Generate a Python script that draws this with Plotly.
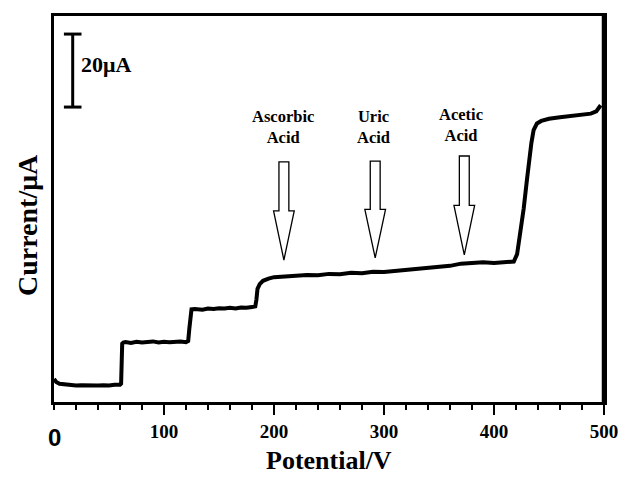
import plotly.graph_objects as go

# ---- data ----
potential = [0, 2, 5, 10, 15, 20, 25, 30, 35, 40, 45, 50, 55, 60, 61,
             62, 63, 65, 70, 75, 80, 85, 90, 95, 100, 105, 110, 115, 120, 122,
             123, 124, 125, 128, 135, 140, 145, 150, 155, 160, 165, 170, 175, 180, 183,
             184, 185, 187, 190, 195, 200, 210, 220, 230, 240, 250, 260, 270, 280, 290,
             300, 310, 320, 330, 340, 350, 360, 370, 380, 390, 400, 410, 418,
             421, 424, 427, 430, 432, 434, 436, 439, 443, 450, 460, 470, 480, 488, 493, 496, 497]
current = [6.3, 5.5, 5.0, 4.8, 4.6, 4.5, 4.6, 4.5, 4.6, 4.5, 4.6, 4.5, 4.7, 4.7, 5.0,
           16.0, 16.3, 16.4, 16.2, 16.5, 16.3, 16.4, 16.6, 16.3, 16.5, 16.4, 16.5, 16.6, 16.4, 16.7,
           20.0, 24.5, 25.4, 25.5, 25.3, 25.6, 25.5, 25.7, 25.6, 25.8, 25.6, 25.9, 25.8, 26.0, 26.2,
           28.0, 31.0, 32.3, 33.2, 33.8, 34.2, 34.4, 34.6, 34.8, 34.7, 35.1, 35.0, 35.4, 35.3, 35.7,
           35.6, 35.9, 36.2, 36.4, 36.7, 36.9, 37.3, 37.9, 38.0, 38.3, 38.1, 38.4, 38.5,
           40.5, 46.0, 53.0, 61.0, 66.5, 71.0, 74.5, 76.3, 77.0, 77.6, 78.0, 78.3, 78.7, 79.0, 79.6, 80.8, 81.3]

x_range = [0, 500]
y_range = [0, 105.75]
tick_vals = [100, 200, 300, 400, 500]
tick_text = ["100", "200", "300", "400", "500"]
top_tick_vals = list(range(0, 501, 20))

arrow_labels = ["Ascorbic<br>Acid", "Uric<br>Acid", "Acetic<br>Acid"]
arrow_x = [209, 292, 373]
arrow_top = [65.8, 66.0, 67.4]
arrow_tip = [38.9, 39.5, 40.3]
label_x = [208, 290, 370]
label_y = [75.4, 75.4, 76.0]

scale_bar_x = 17
scale_bar_low = 80.8
scale_bar_value = 20

serif = "Liberation Serif, Times New Roman, serif"

fig = go.Figure()
fig.add_trace(go.Scatter(x=potential, y=current, mode="lines",
                         line=dict(color="black", width=4), showlegend=False))

# ticks along the top frame: short vertical markers just above the y range, unclipped
fig.add_trace(go.Scatter(x=top_tick_vals, y=[y_range[1] + 1.25] * len(top_tick_vals),
                         mode="markers", cliponaxis=False, showlegend=False, hoverinfo="skip",
                         marker=dict(symbol="line-ns", size=6,
                                     line=dict(color="black", width=2))))

shapes = []
# hollow arrows
for xa, yt, ytip in zip(arrow_x, arrow_top, arrow_tip):
    sw, hw = 4.5, 9.4
    yh = ytip + (yt - ytip) * 0.5
    path = (f"M {xa-sw},{yt} L {xa+sw},{yt} L {xa+sw},{yh} L {xa+hw},{yh} "
            f"L {xa},{ytip} L {xa-hw},{yh} L {xa-sw},{yh} Z")
    shapes.append(dict(type="path", xref="x", yref="y", path=path,
                       line=dict(color="black", width=1.3), fillcolor="white"))
# scale bar
top = scale_bar_low + scale_bar_value
shapes.append(dict(type="line", xref="x", yref="y", x0=scale_bar_x, x1=scale_bar_x,
                   y0=scale_bar_low, y1=top, line=dict(color="black", width=3)))
for yv in (scale_bar_low, top):
    shapes.append(dict(type="line", xref="x", yref="y", x0=scale_bar_x - 8, x1=scale_bar_x + 8,
                       y0=yv, y1=yv, line=dict(color="black", width=3)))
# thicker right frame
shapes.append(dict(type="line", xref="paper", yref="paper", x0=1, x1=1, y0=0, y1=1,
                   line=dict(color="black", width=4.5)))

annotations = []
for t, xl, yl in zip(arrow_labels, label_x, label_y):
    annotations.append(dict(x=xl, y=yl, xref="x", yref="y", text=f"<b>{t}</b>",
                            showarrow=False, font=dict(family=serif, size=16.5, color="black"),
                            yanchor="middle", xanchor="center"))
annotations.append(dict(x=scale_bar_x + 6, y=scale_bar_low + scale_bar_value / 2 + 1.8,
                        xref="x", yref="y", text="<b>20μA</b>", showarrow=False,
                        xanchor="left", yanchor="middle",
                        font=dict(family=serif, size=22, color="black")))
annotations.append(dict(x=0, y=0, xref="x", yref="paper", text="<b>0</b>", showarrow=False,
                        xanchor="center", yanchor="top", yshift=-20,
                        font=dict(family="Liberation Sans, Arial, sans-serif", size=24, color="black")))
annotations.append(dict(x=0.5, y=0, xref="paper", yref="paper", text="<b>Potential/V</b>",
                        showarrow=False, xanchor="center", yanchor="middle", yshift=-58,
                        font=dict(family=serif, size=26, color="black")))
annotations.append(dict(x=0, y=0.4585, xref="paper", yref="paper", text="<b>Current/μA</b>",
                        showarrow=False, xanchor="center", yanchor="middle", xshift=-27,
                        textangle=-90, font=dict(family=serif, size=28, color="black")))

fig.update_layout(
    width=630, height=478,
    margin=dict(l=54, r=18, t=16, b=76),
    paper_bgcolor="white", plot_bgcolor="white",
    shapes=shapes, annotations=annotations,
    xaxis=dict(range=x_range, showgrid=False, zeroline=False,
               showline=True, linecolor="black", linewidth=3, mirror=True,
               ticks="outside", ticklen=10, tickwidth=2, tickcolor="black",
               tickvals=tick_vals, ticktext=tick_text,
               tickfont=dict(family=serif, size=19, color="black", weight="bold"),
               minor=dict(dtick=20, ticks="outside", ticklen=5, tickwidth=2, tickcolor="black")),
    yaxis=dict(range=y_range, showgrid=False, zeroline=False,
               showline=True, linecolor="black", linewidth=3, mirror=True,
               showticklabels=False, ticks=""),
)

fig.write_html("out.html")
